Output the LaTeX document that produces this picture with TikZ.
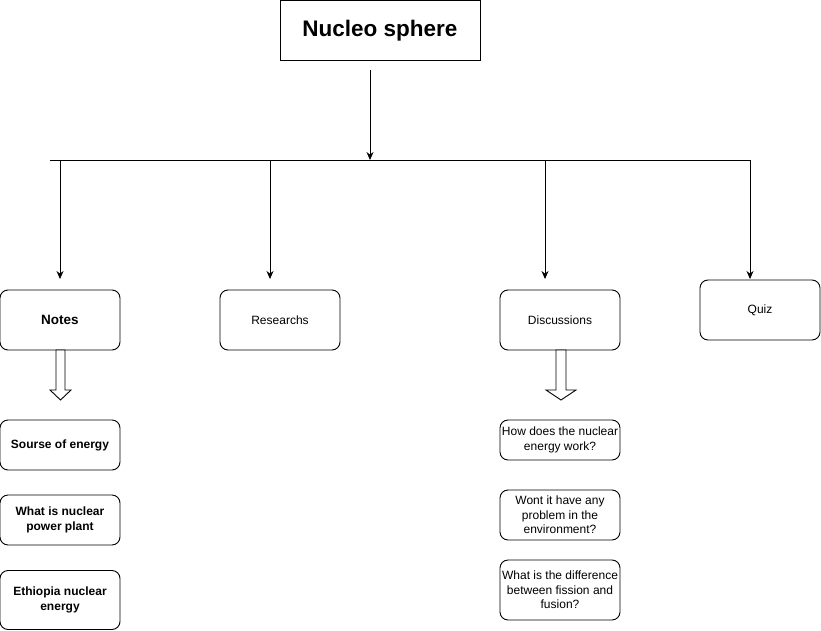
\documentclass[tikz,border=0pt]{standalone}
\usepackage{fontspec}
\setmainfont{Liberation Sans}
\usetikzlibrary{arrows.meta}
\begin{document}
\begin{tikzpicture}[x=1pt,y=-1pt,
  box/.style={draw, line width=0.9pt, rounded corners=8pt, minimum width=120pt, align=center, inner sep=1pt},
  titlebox/.style={draw, line width=0.9pt, minimum width=200pt, minimum height=60pt, font=\fontsize{22.5}{26}\selectfont\bfseries},
  conn/.style={line width=0.9pt, -{Stealth[length=8pt,width=7pt]}},
  barline/.style={line width=0.9pt},
  blockarrow/.style={draw, line width=0.9pt, fill=white},
  bfnode/.style={font=\fontsize{12}{15}\selectfont\bfseries},
  rgnode/.style={font=\fontsize{12}{14.5}\selectfont}
]
\useasboundingbox (0,0) rectangle (821,631);

\node[titlebox] (title) at (380,30.5) {Nucleo sphere};

\coordinate (tstart) at (370,70);
\coordinate (tend) at (370,160);
\coordinate (barL) at (50,160);
\coordinate (barR) at (750,160);
\coordinate (b1) at (60,160);
\coordinate (b2) at (270,160);
\coordinate (b3) at (545,160);

\node[box, minimum height=60pt, font=\fontsize{13.5}{16}\selectfont\bfseries] (notes) at (60,320) {Notes};
\node[box, minimum height=60pt, rgnode] (res) at (280,320) {Researchs};
\node[box, minimum height=60pt, rgnode] (disc) at (560,320) {Discussions};
\node[box, minimum height=60pt, rgnode] (quiz) at (760,310) {Quiz};

\coordinate (n1) at (60,279);
\coordinate (n2) at (270,279);
\coordinate (n3) at (545,279);
\coordinate (n4) at (750,279);

\draw[conn] (tstart) -- (tend);
\draw[barline] (barL) -- (barR);
\draw[conn] (b1) -- (n1);
\draw[conn] (b2) -- (n2);
\draw[conn] (b3) -- (n3);
\draw[conn] (barR) -- (n4);

% block arrows
\draw[blockarrow] (56,350) -- (56,390) -- (50,390) -- (60.5,400) -- (71,390) -- (65,390) -- (65,350) -- cycle;
\draw[blockarrow] (556,350) -- (556,390) -- (546,390) -- (561,400) -- (576,390) -- (566,390) -- (566,350) -- cycle;

% left column
\node[box, minimum height=50pt, bfnode] (src) at (60,445) {Sourse of energy};
\node[box, minimum height=50pt, bfnode] (npp) at (60,520) {What is nuclear\\power plant};
\node[box, minimum height=59pt, bfnode] (eth) at (60,600) {Ethiopia nuclear\\energy};

% right column
\node[box, minimum height=40pt, rgnode] (how) at (560,440) {How does the nuclear\\energy work?};
\node[box, minimum height=50pt, rgnode] (wont) at (560,515) {Wont it have any\\problem in the\\environment?};
\node[box, minimum height=60pt, rgnode] (diff) at (560,590) {What is the difference\\between fission and\\fusion?};
\end{tikzpicture}
\end{document}
